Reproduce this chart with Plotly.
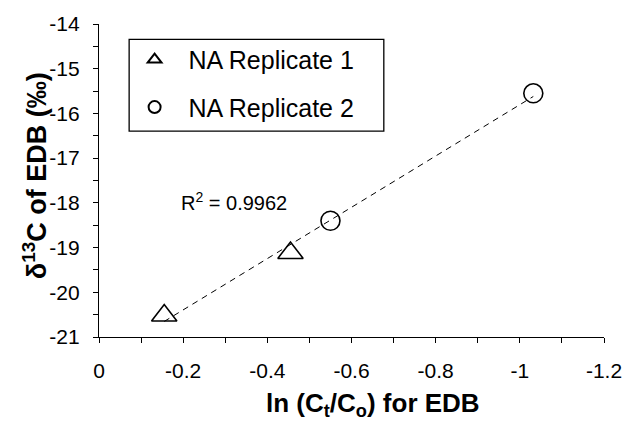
import numpy as np
import plotly.graph_objects as go

# Measured isotope data: ln(Ct/Co) vs delta13C of EDB
rep1_x = [-0.155, -0.455]
rep1_y = [-20.52, -19.12]
rep2_x = [-0.550, -1.032]
rep2_y = [-18.40, -15.55]

series_names = ["NA Replicate 1", "NA Replicate 2"]

x_tick_vals = [0, -0.2, -0.4, -0.6, -0.8, -1.0, -1.2]
x_tick_text = ["0", "-0.2", "-0.4", "-0.6", "-0.8", "-1", "-1.2"]
x_minor_vals = [-0.1, -0.3, -0.5, -0.7, -0.9, -1.1]

y_tick_vals = [-21, -20, -19, -18, -17, -16, -15, -14]
y_tick_text = ["-21", "-20", "-19", "-18", "-17", "-16", "-15", "-14"]
y_minor_vals = [-20.5, -19.5, -18.5, -17.5, -16.5, -15.5, -14.5]

r2_label = "R<sup>2</sup> = 0.9962"

FONT = "Arial, 'Liberation Sans', sans-serif"

# Linear trend through all points
all_x = np.array(rep1_x + rep2_x)
all_y = np.array(rep1_y + rep2_y)
slope, intercept = np.polyfit(all_x, all_y, 1)
fit_x = np.array([all_x.max(), all_x.min()])
fit_y = slope * fit_x + intercept

fig = go.Figure()

fig.add_trace(go.Scatter(
    x=fit_x, y=fit_y, mode="lines", showlegend=False, hoverinfo="skip",
    line=dict(color="black", width=1, dash="6px,5px"),
))

fig.add_trace(go.Scatter(
    x=rep1_x, y=rep1_y, mode="markers", name="\u00a0\u00a0" + series_names[0],
    legendgroup="r1",
    marker=dict(symbol="triangle-up-open", size=22, color="black",
                line=dict(color="black", width=1.6)),
))
fig.add_trace(go.Scatter(
    x=rep2_x, y=rep2_y, mode="markers", name="\u00a0\u00a0" + series_names[1],
    legendgroup="r2",
    marker=dict(symbol="circle-open", size=19, color="black",
                line=dict(color="black", width=1.6)),
))

axis_common = dict(
    showline=True, linecolor="black", linewidth=1.3,
    ticks="outside", ticklen=5, tickwidth=1.2, tickcolor="black",
    showgrid=False, zeroline=False,
    tickfont=dict(family=FONT, size=21, color="black"),
    tickmode="array",
)

fig.update_xaxes(
    **axis_common,
    range=[0, -1.2], tickvals=x_tick_vals, ticktext=x_tick_text,
    minor=dict(tickmode="array", tickvals=x_minor_vals, ticks="outside",
               ticklen=5, tickwidth=1.2, tickcolor="black"),
    ticklabelstandoff=10,
)
fig.update_yaxes(
    **axis_common,
    range=[-21, -14], tickvals=y_tick_vals, ticktext=y_tick_text,
    minor=dict(tickmode="array", tickvals=y_minor_vals, ticks="outside",
               ticklen=5, tickwidth=1.2, tickcolor="black"),
    ticklabelstandoff=9,
)

fig.add_annotation(
    x=-0.19, y=-17.97, xref="x", yref="y", text=r2_label, showarrow=False,
    xanchor="left", yanchor="middle",
    font=dict(family=FONT, size=20, color="black"),
)
fig.add_annotation(
    x=0.542, y=-0.215, xref="paper", yref="paper",
    text="<b>ln (C<sub>t</sub>/C<sub>o</sub>) for EDB</b>", showarrow=False,
    xanchor="center", yanchor="middle",
    font=dict(family=FONT, size=26, color="black"),
)
fig.add_annotation(
    x=-0.128, y=0.515, xref="paper", yref="paper",
    text="<b>δ<sup>13</sup>C of EDB (‰)</b>", showarrow=False, textangle=-90,
    xanchor="center", yanchor="middle",
    font=dict(family=FONT, size=27, color="black"),
)

# Legend frame
fig.add_shape(
    type="rect", xref="paper", yref="paper",
    x0=(129 - 98.5) / 511, x1=(386.7 - 98.5) / 511,
    y0=(336.7 - 128) / 317.2, y1=(336.7 - 35) / 317.2,
    line=dict(color="black", width=1.3), fillcolor="white", layer="below",
)

fig.update_layout(
    width=634, height=428,
    margin=dict(l=98.5, r=24.5, t=19.5, b=91.3),
    paper_bgcolor="white", plot_bgcolor="white",
    font=dict(family=FONT, color="black"),
    legend=dict(
        x=0.0705, y=0.959, xanchor="left", yanchor="top",
        borderwidth=0, bgcolor="rgba(0,0,0,0)",
        font=dict(family=FONT, size=25, color="black"),
        itemsizing="constant", traceorder="grouped", tracegroupgap=12,
    ),
)

fig.write_html("out.html")
